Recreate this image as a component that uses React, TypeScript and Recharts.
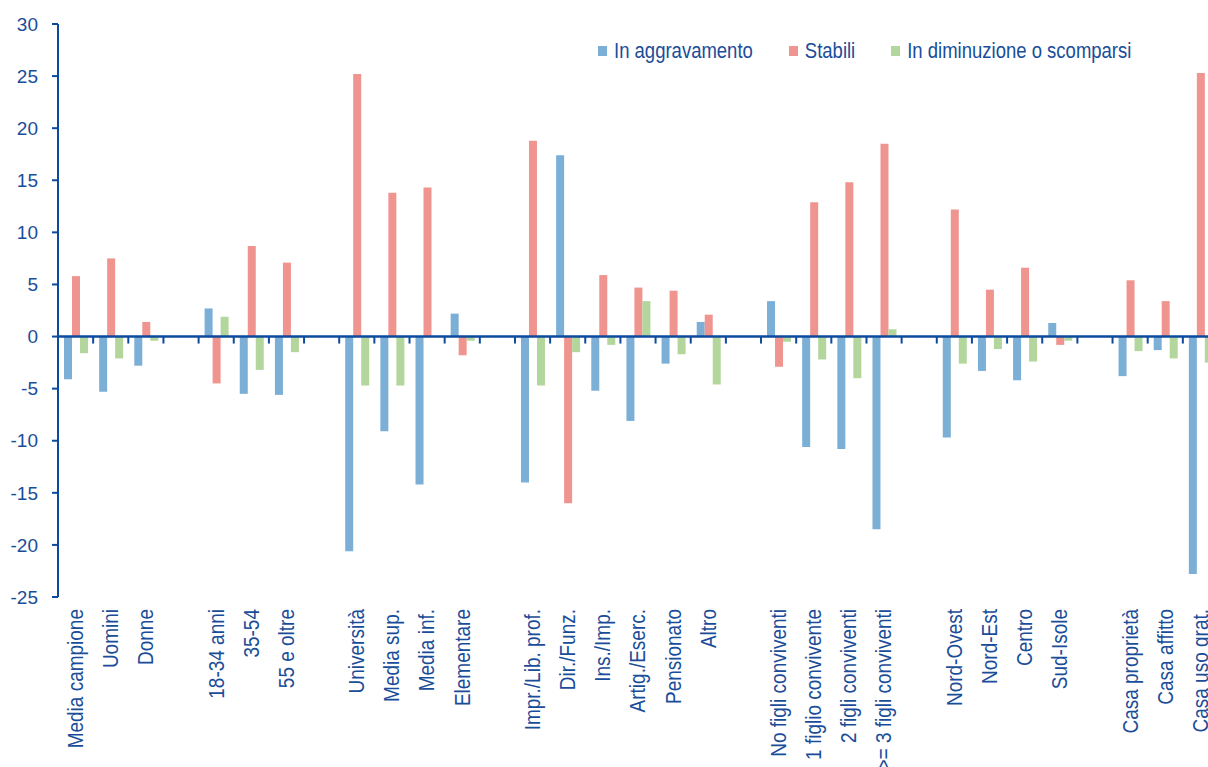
import type { ReactElement } from "react";
import { Bar, BarChart, Legend, ReferenceLine, XAxis, YAxis } from "recharts";

// Empty strings are the blank spacer slots between groups.
const CATEGORIES = [
  "Media campione", "Uomini", "Donne", "",
  "18-34 anni", "35-54", "55 e oltre", "",
  "Università", "Media sup.", "Media inf.", "Elementare", "",
  "Impr./Lib. prof.", "Dir./Funz.", "Ins./Imp.", "Artig./Eserc.", "Pensionato", "Altro", "",
  "No figli conviventi", "1 figlio convivente", "2 figli conviventi", ">= 3 figli conviventi", "",
  "Nord-Ovest", "Nord-Est", "Centro", "Sud-Isole", "",
  "Casa proprietà", "Casa affitto", "Casa uso grat.",
];

const AGGRAVAMENTO = [
  -4.1, -5.3, -2.8, null,
  2.7, -5.5, -5.6, null,
  -20.6, -9.1, -14.2, 2.2, null,
  -14.0, 17.4, -5.2, -8.1, -2.6, 1.4, null,
  3.4, -10.6, -10.8, -18.5, null,
  -9.7, -3.3, -4.2, 1.3, null,
  -3.8, -1.3, -22.8,
];

const STABILI = [
  5.8, 7.5, 1.4, null,
  -4.5, 8.7, 7.1, null,
  25.2, 13.8, 14.3, -1.8, null,
  18.8, -16.0, 5.9, 4.7, 4.4, 2.1, null,
  -2.9, 12.9, 14.8, 18.5, null,
  12.2, 4.5, 6.6, -0.8, null,
  5.4, 3.4, 25.3,
];

const DIMINUZIONE = [
  -1.6, -2.1, -0.4, null,
  1.9, -3.2, -1.5, null,
  -4.7, -4.7, 0, -0.4, null,
  -4.7, -1.5, -0.8, 3.4, -1.7, -4.6, null,
  -0.5, -2.2, -4.0, 0.7, null,
  -2.6, -1.2, -2.4, -0.4, null,
  -1.4, -2.1, -2.5,
];

const SERIES_NAMES = ["In aggravamento", "Stabili", "In diminuzione o scomparsi"];
const Y_TICKS = [-25, -20, -15, -10, -5, 0, 5, 10, 15, 20, 25, 30];

const BLUE = "#7bafd6";
const PINK = "#f0948f";
const GREEN = "#b3d69c";
const AXIS = "#0c4a9e";
const TEXT = "#1a4d99";
const FONT = "'Liberation Sans', Arial, sans-serif";

const data = CATEGORIES.map((name, i) => ({
  name,
  aggravamento: AGGRAVAMENTO[i],
  stabili: STABILI[i],
  diminuzione: DIMINUZIONE[i],
}));

function CategoryTick(props: any): ReactElement {
  const { x, y, payload } = props;
  const ty = y + 10;
  return (
    <text
      x={0}
      y={0}
      transform={`translate(${x}, ${ty}) rotate(-90) scale(1, 1.12)`}
      textAnchor="end"
      dominantBaseline="central"
      fontFamily={FONT}
      fontSize={19}
      fill={TEXT}
    >
      {payload.value}
    </text>
  );
}

// Zero line with small downward ticks on the category boundaries.
function ZeroLine(props: any): ReactElement {
  const { x1, y1, x2 } = props;
  const step = (x2 - x1) / CATEGORIES.length;
  const ticks = [];
  for (let i = 1; i <= CATEGORIES.length; i += 1) {
    const x = x1 + step * i;
    ticks.push(<line key={i} x1={x} x2={x} y1={y1} y2={y1 + 7} stroke={AXIS} strokeWidth={2} />);
  }
  return (
    <g>
      <line x1={x1} x2={x2} y1={y1} y2={y1} stroke={AXIS} strokeWidth={2.5} />
      {ticks}
    </g>
  );
}

function LegendContent(props: any): ReactElement {
  const payload = [...(props.payload ?? [])].sort(
    (a: any, b: any) => SERIES_NAMES.indexOf(a.value) - SERIES_NAMES.indexOf(b.value),
  );
  return (
    <div style={{ display: "flex", alignItems: "center", fontFamily: FONT, fontSize: 18.5, color: TEXT }}>
      {payload.map((entry: any) => (
        <span key={entry.value} style={{ display: "flex", alignItems: "center", marginRight: 36 }}>
          <span style={{ width: 9, height: 10, background: entry.color, marginRight: 7 }} />
          <span style={{ display: "inline-block", transform: "scaleY(1.15)", whiteSpace: "nowrap" }}>
            {entry.value}
          </span>
        </span>
      ))}
    </div>
  );
}

export default function App(): ReactElement {
  return (
    <div
      style={{
        position: "fixed",
        left: 0,
        top: 0,
        width: 1208,
        height: 767,
        overflow: "hidden",
        background: "#ffffff",
      }}
    >
      <BarChart
        width={1230}
        height={767}
        data={data}
        margin={{ top: 24, right: 12, bottom: 0, left: 0 }}
        barCategoryGap={6}
        barGap={0}
      >
        <XAxis
          dataKey="name"
          interval={0}
          axisLine={false}
          tickLine={false}
          tickSize={0}
          height={170}
          tick={<CategoryTick />}
        />
        <YAxis
          domain={[-25, 30]}
          ticks={Y_TICKS}
          width={58}
          axisLine={{ stroke: AXIS, strokeWidth: 2 }}
          tickLine={{ stroke: AXIS, strokeWidth: 2 }}
          tickSize={6}
          tickMargin={14}
          tick={{ fill: TEXT, fontSize: 19, fontFamily: FONT }}
          allowDataOverflow
        />
        <Legend
          layout="horizontal"
          verticalAlign="middle"
          align="center"
          wrapperStyle={{ top: 40, left: 598, width: "auto", height: "auto" }}
          content={<LegendContent />}
        />
        <Bar dataKey="aggravamento" name={SERIES_NAMES[0]} fill={BLUE} isAnimationActive={false} />
        <Bar dataKey="stabili" name={SERIES_NAMES[1]} fill={PINK} isAnimationActive={false} />
        <Bar dataKey="diminuzione" name={SERIES_NAMES[2]} fill={GREEN} isAnimationActive={false} />
        <ReferenceLine y={0} shape={<ZeroLine />} />
      </BarChart>
    </div>
  );
}
